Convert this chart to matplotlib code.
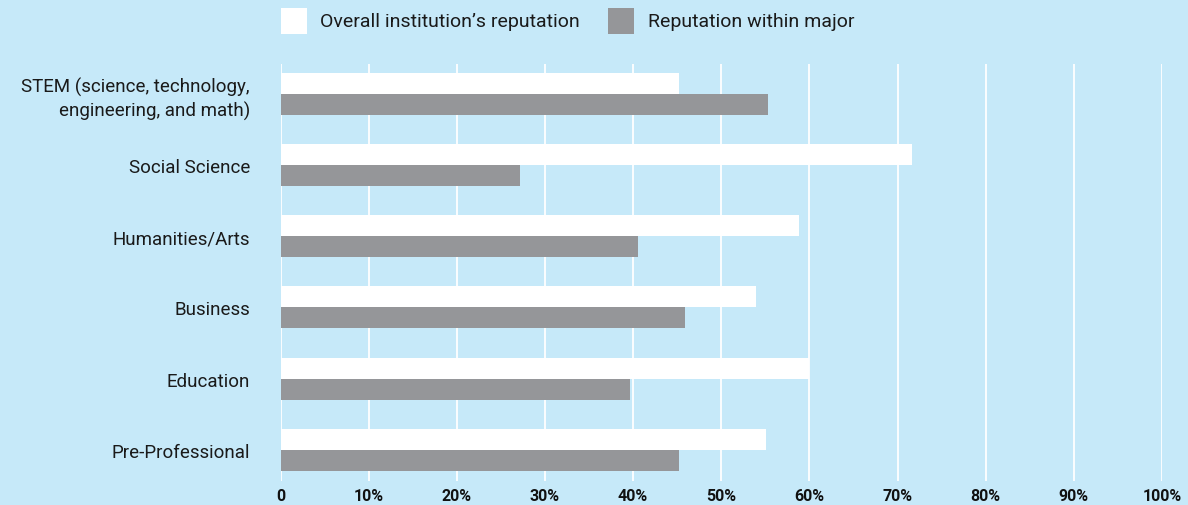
import matplotlib
matplotlib.use("Agg")
import matplotlib.pyplot as plt
import numpy as np
from matplotlib.patches import Rectangle

categories = ["STEM (science, technology,\nengineering, and math)", "Social Science",
              "Humanities/Arts", "Business", "Education", "Pre-Professional"]
overall = [45.2, 71.6, 58.8, 53.9, 59.9, 55.1]
within_major = [55.3, 27.2, 40.5, 45.9, 39.7, 45.2]
series_names = ["Overall institution\u2019s reputation", "Reputation within major"]
tick_labels = ["0", "10%", "20%", "30%", "40%", "50%", "60%", "70%", "80%", "90%", "100%"]

BG = "#c6e9f9"
GRAY = "#959699"
W, H = 1188, 506

plt.rcParams['font.family'] = ['Roboto', 'DejaVu Sans']
fig = plt.figure(figsize=(W / 100, H / 100), dpi=100, facecolor=BG)
ax = fig.add_axes([280.5 / W, 1 - 482 / H, (1162 - 280.5) / W, (482 - 65) / H])
ax.set_facecolor(BG)

y = np.arange(len(categories))
bh = 21 / 71
ax.barh(y - bh / 2, overall, height=bh, color="white", zorder=3)
ax.barh(y + bh / 2, within_major, height=bh, color=GRAY, zorder=3)

ax.set_xlim(0, 100)
ax.set_ylim(5 + 31 / 71, -29.5 / 71)
ax.set_xticks(np.arange(0, 101, 10))
ax.set_xticklabels(tick_labels, fontsize=11.5, fontweight='bold', color="#111111")
ax.set_yticks(y)
ax.set_yticklabels(categories, fontsize=13.5, color="#1a1a1a", ha='right',
                   linespacing=1.35)
ax.tick_params(axis='both', length=0)
ax.tick_params(axis='x', pad=5)
ax.tick_params(axis='y', pad=22)
for s in ax.spines.values():
    s.set_visible(False)
ax.xaxis.grid(True, color="white", linewidth=1.3, zorder=1)
ax.set_axisbelow(True)

# legend
fig.patches.append(Rectangle((281 / W, 1 - 35 / H), 26 / W, 26 / H, transform=fig.transFigure,
                             facecolor="white", edgecolor="none"))
fig.text(320 / W, 1 - 22 / H, series_names[0], fontsize=14, va='center', ha='left', color="#1a1a1a")
fig.patches.append(Rectangle((608 / W, 1 - 35 / H), 26 / W, 26 / H, transform=fig.transFigure,
                             facecolor=GRAY, edgecolor="none"))
fig.text(648 / W, 1 - 22 / H, series_names[1], fontsize=14, va='center', ha='left', color="#1a1a1a")

fig.savefig("out.png", dpi=100, facecolor=BG)
